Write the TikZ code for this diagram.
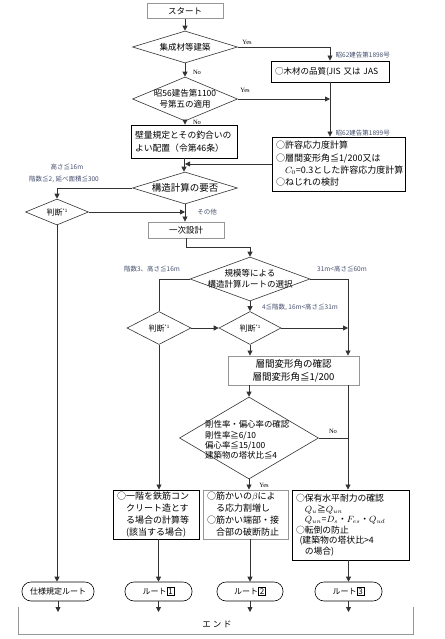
\documentclass[tikz,border=0pt]{standalone}
\usepackage{fontspec}
\setmainfont{Noto Sans CJK JP}
\newfontfamily\latf{Liberation Serif}
\usetikzlibrary{shapes.geometric,arrows.meta}
\definecolor{lblc}{RGB}{70,80,110}
\definecolor{gbord}{RGB}{150,150,150}
\newcommand\fsz[2]{\fontsize{#1}{#2}\selectfont}
\newcommand\rtnum[1]{{\setlength{\fboxsep}{1pt}\setlength{\fboxrule}{0.6pt}\fbox{\fsz{8}{9}#1}}}
\newcommand\sone{\raisebox{2.5pt}{\fsz{4.5}{5}*1}}
\begin{document}
\begin{tikzpicture}[x=1pt,y=-1pt,
  ln/.style={line width=0.8pt, draw=black!80},
  arr/.style={ln, -{Triangle[length=5pt,width=5pt]}},
  dia/.style={draw=black!80, shape=diamond, inner sep=0pt, line width=0.6pt},
  dtx/.style={inner sep=0pt, align=center},
  bbx/.style={draw, line width=0.9pt, inner ysep=0pt, inner xsep=4pt, align=left},
  gbx/.style={draw=gbord, line width=0.9pt, inner sep=0pt, align=center},
  lbl/.style={font=\fsz{6.5}{8}, text=lblc, inner sep=0.5pt},
  yn/.style={font=\latf\fsz{6.5}{7}, inner sep=0.5pt},
  rt/.style={draw, rounded corners=9pt, line width=0.6pt, minimum height=19, inner sep=0pt, font=\fsz{8}{9}}
]
\useasboundingbox (0,0) rectangle (444,639);

% ---------- nodes ----------
\node[gbx, minimum width=76, minimum height=15, font=\fsz{8.5}{10}] (start) at (185,11) {スタート};

\node[dia, minimum width=105, minimum height=32] (d1) at (185,47) {};
\node[dtx, font=\fsz{8.5}{10}] (d1t) at (d1) {集成材等建築};

\node[dia, minimum width=105, minimum height=44] (d2) at (185,99) {};
\node[dtx, font=\fsz{8.5}{11}] (d2t) at (d2) {昭56建告第1100\\号第五の適用};

\node[bbx, minimum width=106, minimum height=33, text width=98, font=\fsz{8.8}{12.5}] (b1) at (184,141.5) {壁量規定とその釣合いの\\よい配置（令第46条）};

\node[bbx, minimum width=118, minimum height=21, text width=110, font=\fsz{8.5}{10}] (r1) at (330,71.5) {○木材の品質(JIS 又は JAS};

\node[bbx, minimum width=133, minimum height=54, text width=125, font=\fsz{9}{12.3}] (r2) at (338.5,164) {○許容応力度計算\\○層間変形角≦1/200又は\\\hspace*{1em}$C_0$=0.3とした許容応力度計算\\○ねじれの検討};

\node[dia, minimum width=105, minimum height=32] (d3) at (185,188) {};
\node[dtx, font=\fsz{9.5}{11}] (d3t) at (d3) {構造計算の要否};

\node[dia, minimum width=63, minimum height=26] (j1) at (57,212) {};
\node[dtx, font=\fsz{8}{10}] (j1t) at (j1) {判断\sone};

\node[gbx, minimum width=76, minimum height=16, font=\fsz{8.5}{10}] (b2) at (186,230) {一次設計};

\node[dia, minimum width=120, minimum height=44] (d4) at (250,279) {};
\node[dtx, font=\fsz{8.5}{11}] (d4t) at (d4) {規模等による\\構造計算ルートの選択};

\node[dia, minimum width=64, minimum height=33] (j2) at (159,328) {};
\node[dtx, font=\fsz{8}{10}] (j2t) at (j2) {判断\sone};
\node[dia, minimum width=62, minimum height=33] (j3) at (250,328) {};
\node[dtx, font=\fsz{8}{10}] (j3t) at (j3) {判断\sone};

\node[gbx, minimum width=131, minimum height=29, font=\fsz{9.5}{13}] (b3) at (293.5,370.5) {層間変形角の確認\\層間変形角≦1/200};

\node[dia, minimum width=139, minimum height=82] (d5) at (249,438) {};
\node[dtx, anchor=west, align=left, font=\fsz{8.4}{10.3}] (d5t) at (205,440) {剛性率・偏心率の確認\\剛性率≧6/10\\偏心率≦15/100\\建築物の塔状比≦4};

\node[bbx, minimum width=86, minimum height=49, text width=78, font=\fsz{9}{12}] (bA) at (156,514.5) {○一階を鉄筋コン\\\hspace*{1em}クリート造とす\\\hspace*{1em}る場合の計算等\\\hspace*{1em}(該当する場合)};

\node[gbx, minimum width=85, minimum height=49, text width=77, inner xsep=4pt, align=left, font=\fsz{9}{12}] (bB) at (245.5,514.5) {○筋かいの$\beta$によ\\\hspace*{1em}る応力割増し\\○筋かい端部・接\\\hspace*{1em}合部の破断防止};

\node[bbx, minimum width=117, minimum height=70, text width=109, font=\fsz{8.8}{10.5}] (bC) at (350.5,525) {○保有水平耐力の確認\\\hspace*{1em}$Q_u$≧$Q_{un}$\\\hspace*{1em}$Q_{un}$=$D_s$・$F_{es}$・$Q_{ud}$\\○転倒の防止\\\hspace*{0.4em}(建築物の塔状比>4\\\hspace*{1em}の場合)};

\node[rt, minimum width=72] (rt0) at (58,591.5) {仕様規定ルート};
\node[rt, minimum width=67] (rt1) at (158.5,591.5) {ルート\rtnum{1}};
\node[rt, minimum width=66] (rt2) at (250,591.5) {ルート\rtnum{2}};
\node[rt, minimum width=67] (rt3) at (348.5,591.5) {ルート\rtnum{3}};

\node[minimum width=394, minimum height=27, inner sep=0pt] (endb) at (216,620.5) {};
\node[font=\fsz{8.5}{10}, inner sep=0pt] (endt) at (217,624) {エ\hspace{2pt}ン\hspace{2pt}ド};
\draw[draw=gbord, line width=0.8pt] (endb.north west) -- (endb.south west) -- (endb.south east) -- (endb.north east);

\coordinate (rc) at (348,0);
\coordinate (endtop) at (0,612);

% ---------- connectors ----------
\draw[arr] (start) -- (d1);
\draw[arr] (d1.east) -| (r1.north);
\draw[arr] (d1) -- (d2);
\draw[arr] (d2.east) -- (r1.south |- d2.east);
\draw[arr] (r1.south) -- (r1.south |- r2.north);
\draw[arr] (d2.south) -- (d2.south |- b1.north);
\draw[arr] (b1.south) -- (b1.south |- d3.north);
\draw[arr] (r2.west) -- (d3.north |- r2.west);
\draw[arr] (d3.west) -| (j1.north);
\draw[arr] (j1.east) -- (d3.south |- j1.east);
\draw[arr] (d3.south) -- (d3.south |- b2.north);
\draw[arr] (b2.south) -- ++(0,9) -| (d4.north);
\draw[ln, line width=1pt] (d4.west) -| (j2.north);
\draw[arr] (d4.east) -| (rc |- b3.north);
\draw[arr] (d4.south) -- (j3.north);
\draw[arr] (j2.east) -- (j3.west);
\draw[arr] (j3.east) -- (rc |- j3.east);
\draw[arr] (j3.south) -- (j3.south |- b3.north);
\draw[arr] (d5.north |- b3.south) -- (d5.north);
\draw[arr] (rc |- b3.south) -- (rc |- bC.north);
\draw[ln] (d5.east) -- (rc |- d5.east);
\draw[arr] (d5.south) -- (d5.south |- bB.north);
\draw[arr] (j2.south) -- (j2.south |- bA.north);
\draw[arr] (j1.south) -- (j1.south |- rt0.north);
\draw[arr] (rt1.north |- bA.south) -- (rt1.north);
\draw[arr] (rt2.north |- bB.south) -- (rt2.north);
\draw[arr] (rt3.north |- bC.south) -- (rt3.north);
\draw[arr] (rt0.south) -- (rt0.south |- endtop);
\draw[arr] (rt1.south) -- (rt1.south |- endtop);
\draw[arr] (rt2.south) -- (rt2.south |- endtop);
\draw[arr] (rt3.south) -- (rt3.south |- endtop);

% ---------- labels ----------
\node[yn] (y1) at (247,42) {Yes};
\node[yn] (n1) at (197,72) {No};
\node[yn] (y2) at (245,90) {Yes};
\node[yn] (n2) at (197,122) {No};
\node[lbl, anchor=west] (k1) at (335,55) {昭62建告第1898号};
\node[lbl, anchor=west] (k2) at (335,133) {昭62建告第1899号};
\node[lbl] (h1) at (67,167) {高さ≦16m};
\node[lbl] (h2) at (64,179) {階数≦2, 延べ面積≦300};
\node[lbl] (so) at (207,212) {その他};
\node[lbl] (h3) at (152,269) {階数3、高さ≦16m};
\node[lbl] (h4) at (342,269) {31m<高さ≦60m};
\node[lbl] (h5) at (300,307) {4≦階数, 16m<高さ≦31m};
\node[yn] (n3) at (333,431) {No};
\node[yn] (y3) at (264,485) {Yes};
\end{tikzpicture}
\end{document}
